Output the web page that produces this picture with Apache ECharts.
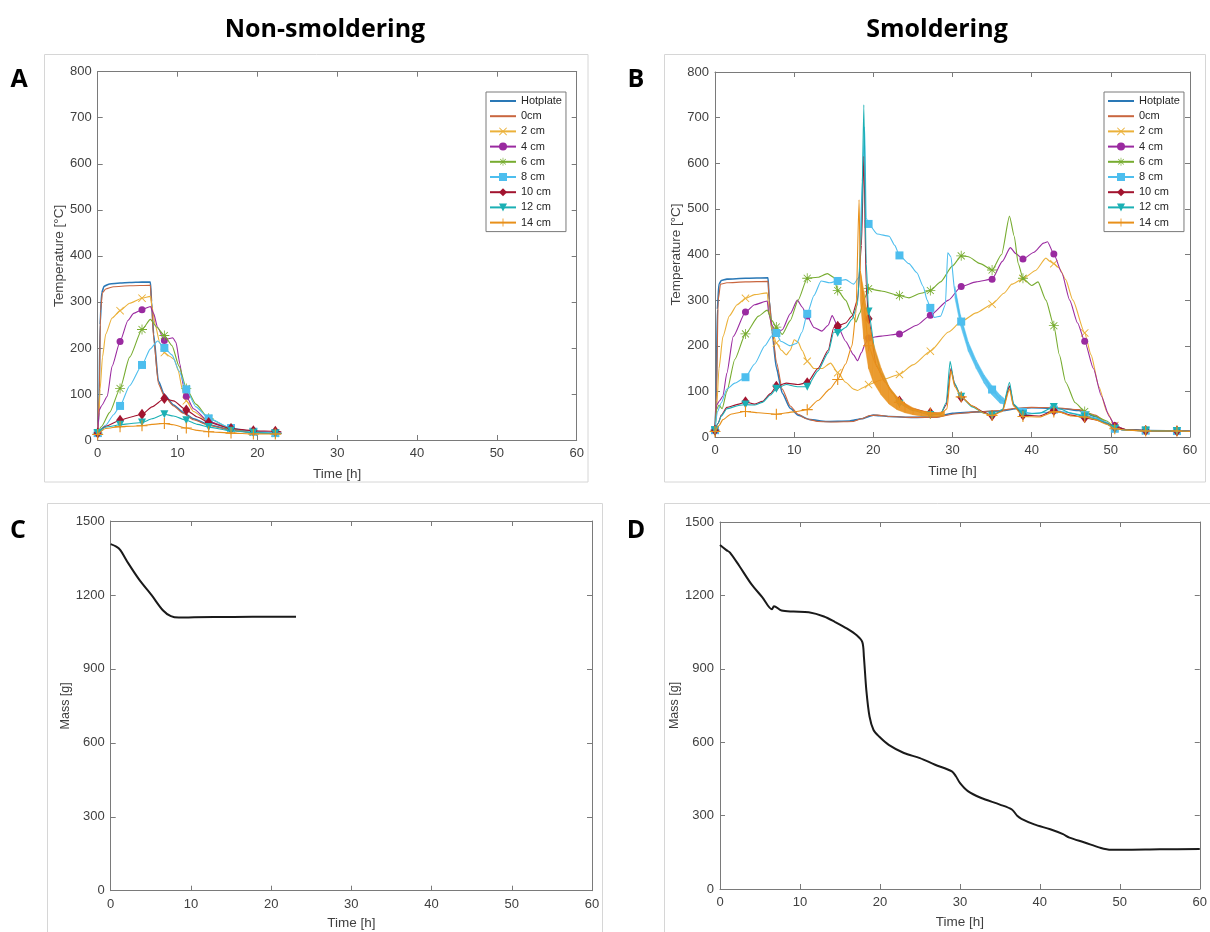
<!DOCTYPE html>
<html><head><meta charset="utf-8">
<script src="https://cdn.jsdelivr.net/npm/echarts@6/dist/echarts.min.js"></script>
<style>html,body{margin:0;padding:0;background:#fff}#c{width:1210px;height:932px}</style>
</head><body><div id="c"></div>
<script>
// ---------- DATA ----------
const seriesNames = ['Hotplate','0cm','2 cm','4 cm','6 cm','8 cm','10 cm','12 cm','14 cm'];
const tempTicks = [0,100,200,300,400,500,600,700,800];
const massTicks = [0,300,600,900,1200,1500];
const timeTicks = [0,10,20,30,40,50,60];

// marker times (h)
const markA = [0,2.8,5.55,8.35,11.1,13.9,16.7,19.5,22.25];
const markB = [0,3.85,7.75,11.65,15.5,19.4,23.3,27.2,31.1,35,38.9,42.8,46.7,50.5,54.4,58.35];

// Panel A (non-smoldering) [time h, temperature °C]
const A_hot = [[0,15],[0.15,60],[0.3,250],[0.5,320],[0.8,334],[1.5,339],[2.8,341],[4,342],[5.55,343],[6.6,343],[6.75,300],[7,230],[7.6,128],[8.35,98],[9.5,76],[10.7,60],[12,46],[13.9,33],[16.7,22],[19.5,17],[23,14]];
const A_0cm = [[0,12],[0.2,100],[0.35,280],[0.6,320],[1,328],[2,333],[4,335],[6.6,336],[6.75,296],[7,222],[7.6,122],[8.35,95],[9.5,74],[10.7,58],[12,44],[13.9,32],[16.7,21],[19.5,16],[23,14]];
const A_2cm = [[0,15],[0.15,50],[0.3,110],[0.6,180],[1,230],[1.8,265],[2.8,281],[4,297],[5.55,308],[6.6,312],[6.8,290],[7.2,250],[7.8,210],[8.35,190],[9,182],[9.6,175],[10.1,150],[10.6,110],[11.1,85],[12,62],[13.9,40],[16.7,24],[19.5,17],[22.25,15],[23,15]];
const A_4cm = [[0,15],[0.2,65],[0.5,75],[1.2,95],[1.8,160],[2.8,214],[3.8,260],[4.5,275],[5.55,283],[6.6,290],[7,275],[7.5,245],[8.35,216],[8.9,220],[9.4,222],[9.8,212],[10.3,165],[10.7,120],[11.1,95],[12,68],[13.9,40],[16.7,25],[19.5,18],[22.25,16],[23,15]];
const A_6cm = [[0,15],[0.5,30],[1.5,60],[2.8,112],[4,180],[5.55,240],[6.6,262],[7.4,245],[8.35,227],[9.3,205],[10.2,160],[11.1,112],[12.3,78],[13.9,47],[16.7,25],[19.5,17],[22.25,14],[23,14]];
const A_8cm = [[0,15],[1,32],[2,55],[2.8,74],[4,118],[5.55,163],[6.6,198],[7.5,215],[8.35,200],[9.3,185],[10.2,150],[11.1,110],[12.3,72],[13.9,47],[16.7,26],[19.5,18],[22.25,15],[23,15]];
const A_10cm = [[0,15],[1,30],[2.8,43],[4.2,50],[5.55,56],[6.8,72],[8.35,90],[9.5,85],[11.1,65],[12.5,50],[13.9,38],[16.7,25],[19.5,20],[22.25,19],[23,18]];
const A_12cm = [[0,15],[1,28],[2.8,33],[4.2,36],[5.55,38],[6.8,46],[8.35,56],[9.5,52],[11.1,43],[12.5,34],[13.9,28],[16.7,20],[19.5,16],[22.25,14],[23,14]];
const A_14cm = [[0,12],[1,25],[2.8,29],[4.2,30],[5.55,31],[6.8,34],[8.35,36],[9.5,33],[11.1,26],[12.5,21],[13.9,18],[16.7,15],[19.5,13],[22.25,13],[23,13]];

// Panel B (smoldering)
const B_hot = [[0,15],[0.15,80],[0.3,280],[0.5,335],[0.8,343],[1.5,346],[3.85,348],[6.7,349],[6.85,300],[7.2,232],[7.75,152],[8.5,96],[9.5,63],[10.5,48],[12,38],[14,34],[17,35],[18.5,40],[20,48],[22,45],[25,43],[28,44],[30,52],[33,55],[36,57],[38,62],[40,64],[44,62],[46,58],[48,45],[50,25],[51.5,16],[54.4,14],[60,13]];
const B_0cm = [[0,12],[0.2,100],[0.4,300],[0.7,335],[1.5,338],[3.85,340],[6.7,341],[6.85,300],[7.2,240],[7.75,165],[8.5,105],[9.5,68],[10.5,50],[11.5,40],[13,34],[15,33],[17.5,34],[18.5,40],[19.5,47],[20.5,48],[22,45],[25,43],[28,43],[30,50],[33,55],[36,58],[38,63],[40,65],[43,64],[46,60],[48,48],[50,25],[51.5,16],[54.4,14],[60,13]];
const B_2cm = [[0,15],[0.2,60],[0.5,150],[1,220],[1.8,265],[2.8,290],[3.85,304],[5,312],[6.6,316],[6.8,280],[7.2,235],[7.75,206],[8.4,190],[9,180],[9.5,190],[10,213],[10.5,208],[11,190],[11.65,166],[12.5,150],[13.5,150],[14.6,162],[15.5,141],[16.5,120],[17.5,105],[18,102],[18.7,108],[19.4,115],[21,125],[23.3,137],[25,158],[27.2,188],[29.5,230],[31.1,253],[33,272],[35,291],[36.5,315],[37.5,335],[38.9,347],[40.5,365],[41.8,392],[42.3,385],[42.8,380],[43.5,370],[44.3,345],[45.2,300],[46.7,228],[47.5,180],[48.5,110],[49.5,55],[50.5,25],[52,16],[54.4,14],[58.35,13],[60,12]];
const B_4cm = [[0,15],[0.2,70],[0.6,80],[1,90],[1.5,140],[2.3,220],[3.85,274],[5,290],[6.6,298],[6.8,270],[7.2,245],[7.75,227],[8.5,235],[9.5,270],[10.4,300],[11,285],[11.65,265],[12.5,240],[13.5,232],[14.3,245],[14.8,266],[15.5,243],[16.5,210],[17.5,180],[18,167],[18.5,185],[19,205],[19.4,217],[21,221],[23.3,226],[25.5,245],[27.2,267],[29.5,300],[31.1,330],[33,340],[35,346],[36.3,385],[37.3,415],[38,402],[38.9,390],[40.3,405],[41.5,425],[42,428],[42.8,401],[43.8,360],[44.8,300],[45.8,250],[46.7,210],[47.8,150],[48.8,90],[49.8,45],[50.5,25],[52,16],[54.4,14],[58.35,13],[60,12]];
const B_6cm = [[0,15],[0.2,60],[0.5,70],[0.9,62],[1.5,100],[2.5,170],[3.85,226],[5.5,265],[6.6,278],[7.2,255],[7.75,241],[8.5,225],[9.5,255],[10.5,300],[11.65,348],[13,350],[14.2,358],[15,350],[15.5,321],[16.5,300],[17.3,270],[17.8,252],[18.3,272],[18.8,300],[19.4,325],[21,320],[23.3,310],[24.5,305],[26,315],[27.2,321],[28.5,340],[30,375],[31.1,397],[32,395],[33.5,380],[35,366],[36.2,400],[37.2,484],[37.8,440],[38.3,380],[38.9,348],[40,332],[40.8,340],[41.8,300],[42.8,244],[43.5,180],[44.3,120],[45.5,75],[46.7,56],[48,46],[49.5,35],[50.5,20],[52,16],[54.4,14],[58.35,13],[60,12]];
const B_8cm = [[0,15],[0.3,55],[0.8,75],[1.5,105],[2.5,118],[3.85,131],[5,160],[6.3,200],[7.2,222],[7.75,228],[8.3,210],[9.5,200],[10.3,205],[11,230],[11.65,270],[12.5,310],[13.4,342],[14.5,338],[15.5,342],[16.5,345],[17.5,335],[18.2,350],[18.6,560],[18.9,680],[19.1,480],[19.4,467],[20.5,445],[22,440],[22.7,420],[23.3,398],[24.5,380],[25.5,360],[26.3,330],[26.8,300],[27.2,283],[27.7,262],[28.5,265],[29.1,290],[29.4,404],[29.8,395],[30.3,318],[31.1,253],[32,200],[33,160],[34,130],[35,104],[36,84],[36.5,78],[37.2,110],[37.8,70],[38.9,55],[40,52],[42,54],[42.8,60],[44,55],[46.7,48],[48,42],[49.5,32],[50.5,18],[52,15],[54.4,14],[58.35,13],[60,12]];
const B_10cm = [[0,15],[0.4,30],[0.8,48],[1.5,65],[3,72],[3.85,77],[5,72],[6,78],[7,95],[7.75,111],[9,118],[10.5,115],[11.65,119],[13,150],[14.3,190],[15,240],[15.5,243],[16.5,250],[17.3,265],[18,300],[18.5,420],[18.8,615],[19.1,330],[19.4,259],[20.4,155],[21.5,120],[22.5,95],[23.3,79],[25,62],[27.2,53],[28.5,52],[29.2,70],[29.8,150],[30.3,115],[31.1,87],[32.5,68],[34,54],[35,47],[36.3,58],[37.2,112],[37.7,70],[38.9,48],[41,46],[42.8,58],[43.5,55],[45,48],[46.7,42],[48,38],[49.5,30],[50.5,22],[52,16],[54.4,14],[58.35,13],[60,12]];
const B_12cm = [[0,15],[0.4,30],[0.8,46],[1.5,62],[3,69],[3.85,71],[5,70],[6,76],[7,92],[7.75,106],[9,115],[10.5,110],[11.65,110],[13,145],[14.3,185],[15,230],[15.5,228],[16.5,240],[17.3,258],[18,290],[18.5,450],[18.8,728],[19.1,380],[19.4,275],[20.3,180],[21,140],[22.3,100],[23.3,73],[25,58],[27.2,48],[28.5,50],[29.2,75],[29.7,166],[30.2,120],[31.1,88],[32.5,66],[34,52],[35,47],[36.3,60],[37.2,120],[37.7,72],[38.9,50],[41,52],[42.8,66],[43.5,62],[45,52],[46.7,45],[48,40],[49.5,30],[50.5,18],[52,15],[54.4,14],[58.35,13],[60,12]];
const B_14cm = [[0,12],[0.5,25],[1,38],[2,50],[3.85,56],[5.5,53],[7.75,50],[10,55],[11.65,60],[13,80],[14.5,105],[15.5,126],[16.5,160],[17.3,200],[17.8,270],[18.2,520],[18.35,365],[18.8,290],[19.4,200],[20.3,160],[21.5,120],[22.5,95],[23.3,76],[25,60],[27.2,52],[28.5,50],[29.3,62],[29.8,145],[30.3,110],[31.1,88],[32.5,68],[34,52],[35,47],[36.3,56],[37.2,105],[37.7,68],[38.9,45],[41,44],[42.8,55],[43.5,55],[45,46],[46.7,44],[48,38],[49.5,28],[50.5,18],[52,15],[54.4,13],[58.35,13],[60,12]];

// noisy envelopes [time, upper, lower]
const band14 = [[18.35,365,300],[18.8,320,215],[19.4,255,150],[20,205,120],[21,150,92],[22,110,72],[23,88,60],[24,74,53],[25,64,49],[26,58,46],[27,55,45],[28,53,44],[29,56,46]];
const band8 = [[30.3,330,305],[31,268,245],[32,208,188],[33,168,150],[34,136,118],[35,112,92],[36,92,74],[36.5,85,72]];

// Panels C/D mass [time h, mass g]
const C_mass = [[0,1406],[0.7,1396],[1.2,1382],[2.2,1328],[3.6,1260],[5.1,1199],[6.5,1138],[7.5,1114],[8.5,1108],[10.4,1109],[15.3,1111],[20.1,1112],[23.1,1112]];
const D_mass = [[0,1406],[0.8,1385],[1.25,1375],[2.4,1321],[3.9,1247],[5.3,1192],[6.5,1143],[6.75,1156],[7.7,1138],[9.2,1134],[11.1,1131],[13,1114],[14.4,1091],[15.9,1064],[17.1,1037],[17.8,1009],[18,948],[18.3,813],[18.7,705],[19.2,650],[19.9,623],[21.1,589],[23,556],[25,535],[26.9,508],[29,481],[29.5,461],[30,434],[31,400],[32.6,373],[35,345],[36.5,325],[37.2,298],[37.7,287],[39.3,264],[41.3,244],[42.9,224],[43.7,210],[45.6,190],[47.5,169],[48.9,160],[50.4,160],[55,162],[60,163]];

// ---------- STYLE ----------
const colors = ['#2a78b6','#c9663f','#ebb13a','#9a2aa0','#77ac30','#4dbeee','#a2142f','#1bb0b4','#e8901a'];
const pX = 'path://M0,0.8L0.8,0L5,4.2L9.2,0L10,0.8L5.8,5L10,9.2L9.2,10L5,5.8L0.8,10L0,9.2L4.2,5Z';
const pPlus = 'path://M4.5,0H5.5V4.5H10V5.5H5.5V10H4.5V5.5H0V4.5H4.5Z';
const pStar = 'path://M4.6,0H5.4V4.6H10V5.4H5.4V10H4.6V5.4H0V4.6H4.6Z M1.2,1.8L1.8,1.2L5,4.4L8.2,1.2L8.8,1.8L5.6,5L8.8,8.2L8.2,8.8L5,5.6L1.8,8.8L1.2,8.2L4.4,5Z';
const sym = ['none','none',pX,'circle',pStar,'rect','diamond','triangle',pPlus];
const symSize = [0,0,8,7,10,8,[8,11],8,11];
const symRot = [0,0,0,0,0,0,0,180,0];
const FONT = '"Liberation Sans", Arial, sans-serif';

const AData = [A_hot,A_0cm,A_2cm,A_4cm,A_6cm,A_8cm,A_10cm,A_12cm,A_14cm];
const BData = [B_hot,B_0cm,B_2cm,B_4cm,B_6cm,B_8cm,B_10cm,B_12cm,B_14cm];

function mk(points, marks){
  return points.map(p => marks.indexOf(p[0]) >= 0 ? {value:p} : {value:p, symbol:'none'});
}

const grids = [
  {left:97.7, top:71.7, width:479, height:368.3},
  {left:715, top:72, width:475, height:365},
  {left:110.7, top:521, width:481.3, height:369.7},
  {left:720, top:522, width:480.7, height:367}
];

const axLine = {show:true, onZero:false, lineStyle:{color:'#7a7a7a', width:1}};
const tick = {show:true, inside:true, length:5, lineStyle:{color:'#7a7a7a'}};
const lbl = {color:'#404040', fontSize:13, fontFamily:FONT, formatter:(v)=>String(v)};
const xAxes = [], yAxes = [];
grids.forEach((g,i)=>{
  const isT = i<2;
  xAxes.push({gridIndex:i, type:'value', min:0, max:60, interval:10, position:'bottom',
    axisLine:axLine, axisTick:tick, splitLine:{show:false},
    axisLabel:Object.assign({margin:7}, lbl),
    name:'Time [h]', nameLocation:'middle', nameGap: isT?27:26,
    nameTextStyle:{color:'#404040', fontSize:13.5, fontFamily:FONT}});
  xAxes.push({gridIndex:i, type:'value', min:0, max:60, interval:10, position:'top',
    axisLine:axLine, axisTick:tick, splitLine:{show:false}, axisLabel:{show:false}});
  yAxes.push({gridIndex:i, type:'value', min:0, max:isT?800:1500, interval:isT?100:300, position:'left',
    axisLine:axLine, axisTick:tick, splitLine:{show:false},
    axisLabel:Object.assign({margin:6}, lbl),
    name:isT?'Temperature [°C]':'Mass [g]', nameLocation:'middle', nameGap: isT?31:34,
    nameTextStyle:{color:'#404040', fontSize:isT?13.5:12.5, fontFamily:FONT}});
  yAxes.push({gridIndex:i, type:'value', min:0, max:isT?800:1500, interval:isT?100:300, position:'right',
    axisLine:axLine, axisTick:tick, splitLine:{show:false}, axisLabel:{show:false}});
});

const series = [];
function addTemp(datas, marks, gi){
  datas.forEach((d,k)=>{
    series.push({
      type:'line', name:seriesNames[k], xAxisIndex:gi*2, yAxisIndex:gi*2,
      data: mk(d, marks), symbol: k<2?'none':sym[k], symbolSize:symSize[k], symbolRotate:symRot[k],
      showSymbol:true, showAllSymbol:true, smooth:0.2, smoothMonotone:'x',
      color:colors[k], lineStyle:{width: k===0?1.6:1.1, color:colors[k]},
      itemStyle:{color:colors[k], borderWidth:0}, emphasis:{disabled:true}, z: 2+k
    });
  });
}
addTemp(AData, markA, 0);
addTemp(BData, markB, 1);

function bandSeries(rows, color, z){
  return {type:'custom', xAxisIndex:2, yAxisIndex:2, silent:true, z:z,
    data: rows.slice(0,-1).map((r,i)=>[r[0], i]),
    renderItem:(params, api)=>{
      const i = params.dataIndex, a = rows[i], b = rows[i+1];
      const pts = [api.coord([a[0],a[1]]), api.coord([b[0],b[1]]), api.coord([b[0],b[2]]), api.coord([a[0],a[2]])];
      return {type:'polygon', shape:{points:pts}, style:{fill:color, stroke:color, lineWidth:0.5, opacity:0.9}};
    }};
}
series.push(bandSeries(band8, colors[5], 7));
series.push(bandSeries(band14, colors[8], 10));

series.push({type:'line', name:'Mass C', xAxisIndex:4, yAxisIndex:4, data:C_mass, showSymbol:false, smooth:0.3,
  lineStyle:{color:'#1a1a1a', width:2}});
series.push({type:'line', name:'Mass D', xAxisIndex:6, yAxisIndex:6, data:D_mass, showSymbol:false, smooth:0.3,
  lineStyle:{color:'#1a1a1a', width:2}});

const legData = seriesNames.map((n,k)=> k<2 ? {name:n, itemStyle:{opacity:0}} : {name:n});
function legend(left){
  return {left:left, top:92, orient:'vertical', itemWidth:26, itemHeight:10, itemGap:3.2,
    padding:[3,4,3,3], borderColor:'#7a7a7a', borderWidth:1, backgroundColor:'#fff',
    textStyle:{fontSize:11, lineHeight:12, color:'#262626', fontFamily:FONT},
    selectedMode:false, data:legData};
}

const frame = (x,y,w,h)=>({type:'rect', shape:{x:x,y:y,width:w,height:h}, style:{fill:'none', stroke:'#d6d6d6', lineWidth:1}, silent:true, z:-1});
const letter = (t,x,y)=>({type:'text', x:x, y:y, style:{text:t, font:'bold 25px "Open Sans", sans-serif', fill:'#000', textAlign:'center', textVerticalAlign:'middle'}});
const title = (t,x)=>({type:'text', x:x, y:30, style:{text:t, font:'bold 25px "Open Sans", sans-serif', fill:'#000', textAlign:'center', textVerticalAlign:'middle'}});

const chart = echarts.init(document.getElementById('c'), null, {renderer:'canvas'});
chart.setOption({
  animation:false,
  backgroundColor:'#fff',
  grid:grids, xAxis:xAxes, yAxis:yAxes, series:series,
  legend:[legend(486), legend(1104)],
  graphic:[
    frame(44.5,54.5,543.5,427.5), frame(664.5,54.5,541,427.5),
    frame(47.5,503.5,555,440), frame(664.5,503.5,560,440),
    title('Non-smoldering',325), title('Smoldering',937),
    letter('A',19,80), letter('B',636,80), letter('C',18,531), letter('D',636,531)
  ]
});
</script></body></html>
